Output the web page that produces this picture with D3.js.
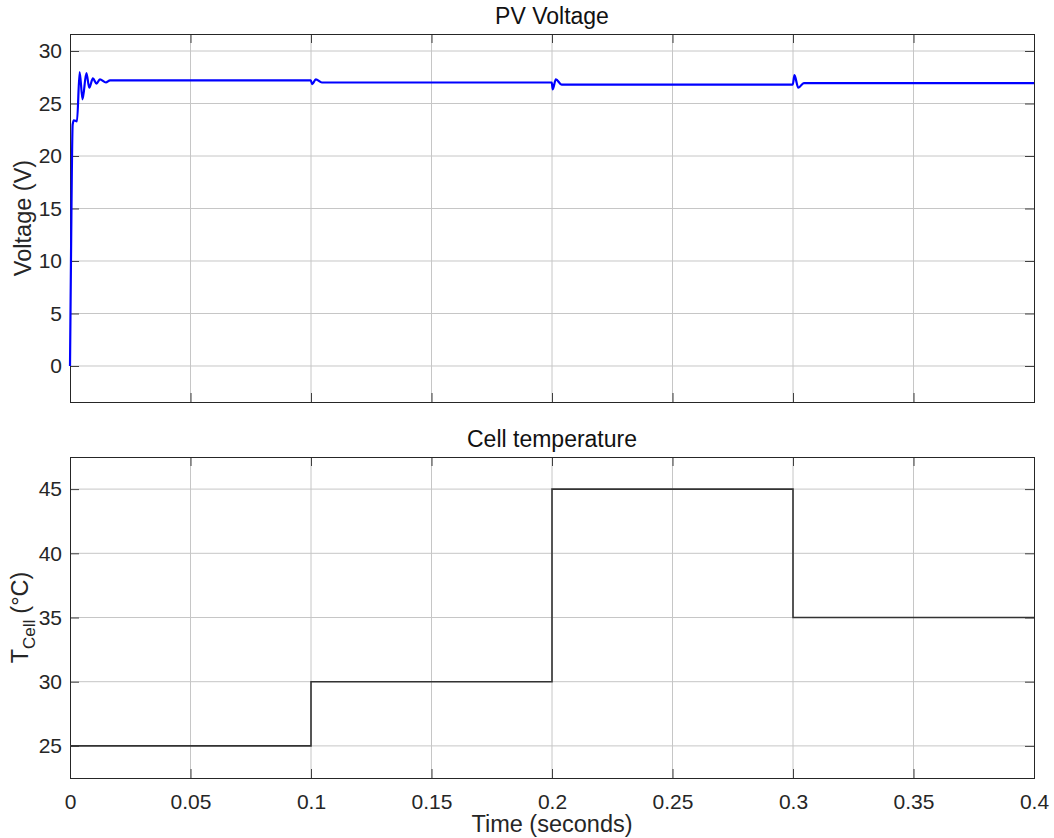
<!DOCTYPE html>
<html>
<head>
<meta charset="utf-8">
<script src="https://cdn.jsdelivr.net/npm/d3@7"></script>
<style>
  body { margin: 0; background: #fff; }
  svg { font-family: "Liberation Sans", Arial, sans-serif; }
  .tick text { fill: #262626; font-size: 21px; }
</style>
</head>
<body>
<svg id="chart" width="1054" height="838"></svg>
<script>
// PV voltage samples (seconds, volts)
const vTime = [0, 0.0004, 0.0011, 0.0016, 0.0029, 0.0040, 0.0052, 0.0068, 0.0080, 0.0095, 0.0110, 0.0124, 0.0149, 0.0166,
  0.0999, 0.1005, 0.1020, 0.1045,
  0.1999, 0.2003, 0.2016, 0.2040,
  0.2999, 0.3006, 0.3022, 0.3045, 0.4];
const vValue = [0, 10, 23.0, 23.4, 23.3, 28.0, 25.4, 27.9, 26.5, 27.4, 26.9, 27.3, 27.0, 27.2,
  27.2, 26.85, 27.3, 27.0,
  27.0, 26.35, 27.3, 26.8,
  26.8, 27.7, 26.5, 26.95, 26.95];

// cell temperature steps (seconds, °C)
const tTime = [0, 0.1, 0.2, 0.3, 0.4];
const tValue = [25, 30, 45, 35, 35];

const xTicks = [0, 0.05, 0.1, 0.15, 0.2, 0.25, 0.3, 0.35, 0.4];
const vTicks = [0, 5, 10, 15, 20, 25, 30];
const tTicks = [25, 30, 35, 40, 45];

const svg = d3.select("#chart");
const left = 70, right = 1034;

const x = d3.scaleLinear().domain([0, 0.4]).range([left, right]);

function panel(top, bottom, yDomain, yTicks, title) {
  const y = d3.scaleLinear().domain(yDomain).range([bottom, top]);
  const g = svg.append("g");

  // grid
  g.append("g").selectAll("line").data(xTicks.slice(1, -1)).join("line")
    .attr("x1", d => x(d)).attr("x2", d => x(d))
    .attr("y1", top).attr("y2", bottom)
    .attr("stroke", "#c6c6c6").attr("stroke-width", 1);
  g.append("g").selectAll("line").data(yTicks).join("line")
    .attr("x1", left).attr("x2", right)
    .attr("y1", d => y(d)).attr("y2", d => y(d))
    .attr("stroke", "#c6c6c6").attr("stroke-width", 1);

  // inner tick marks on all four sides
  const tl = 9;
  g.append("g").call(d3.axisBottom(x).tickValues(xTicks).tickSize(-tl).tickFormat(""))
    .attr("transform", `translate(0,${bottom})`);
  g.append("g").call(d3.axisTop(x).tickValues(xTicks).tickSize(-tl).tickFormat(""))
    .attr("transform", `translate(0,${top})`);
  g.append("g").call(d3.axisRight(y).tickValues(yTicks).tickSize(-tl).tickFormat(""))
    .attr("transform", `translate(${right},0)`);
  g.append("g").call(d3.axisLeft(y).tickValues(yTicks).tickSize(-tl).tickPadding(8).tickFormat(d3.format("d")))
    .attr("transform", `translate(${left},0)`);
  g.selectAll(".domain").remove();
  g.selectAll(".tick line").attr("stroke", "#404040");

  g.append("rect")
    .attr("x", left + 0.5).attr("y", top + 0.5)
    .attr("width", right - left).attr("height", bottom - top)
    .attr("fill", "none").attr("stroke", "#262626").attr("stroke-width", 1);

  g.append("text")
    .attr("x", (left + right) / 2).attr("y", top - 10)
    .attr("text-anchor", "middle").attr("font-size", 23).attr("fill", "#111")
    .text(title);

  return { g, y };
}

// top panel: PV voltage
const p1 = panel(34, 402, [-3.43, 31.62], vTicks, "PV Voltage");
p1.g.append("path")
  .datum(vTime.map((t, i) => [t, vValue[i]]))
  .attr("fill", "none").attr("stroke", "#0000ff").attr("stroke-width", 2.2)
  .attr("stroke-linejoin", "round")
  .attr("d", d3.line().x(d => x(d[0])).y(d => p1.y(d[1])).curve(d3.curveMonotoneX));

p1.g.append("text")
  .attr("transform", `translate(31,${(34 + 402) / 2}) rotate(-90)`)
  .attr("text-anchor", "middle").attr("font-size", 23.5).attr("fill", "#262626")
  .text("Voltage (V)");

// bottom panel: cell temperature
const p2 = panel(457, 778, [22.5, 47.5], tTicks, "Cell temperature");
p2.g.append("path")
  .datum(tTime.map((t, i) => [t, tValue[i]]))
  .attr("fill", "none").attr("stroke", "#333").attr("stroke-width", 1.6)
  .attr("d", d3.line().x(d => x(d[0])).y(d => p2.y(d[1])).curve(d3.curveStepAfter));

const yl = p2.g.append("text")
  .attr("transform", `translate(28,${(457 + 778) / 2}) rotate(-90)`)
  .attr("text-anchor", "middle").attr("font-size", 23.5).attr("fill", "#262626");
yl.append("tspan").text("T");
yl.append("tspan").attr("font-size", 17).attr("dy", 7).text("Cell");
yl.append("tspan").attr("dy", -7).attr("dx", 6).text("(°C)");

// x axis labels
svg.append("g")
  .attr("transform", "translate(0,778)")
  .call(d3.axisBottom(x).tickValues(xTicks).tickSize(0).tickPadding(16).tickFormat(d => d3.format("")(+d.toFixed(2))))
  .call(a => a.select(".domain").remove());

svg.append("text")
  .attr("x", (left + right) / 2).attr("y", 832)
  .attr("text-anchor", "middle").attr("font-size", 23.5).attr("fill", "#262626")
  .text("Time (seconds)");
</script>
</body>
</html>
